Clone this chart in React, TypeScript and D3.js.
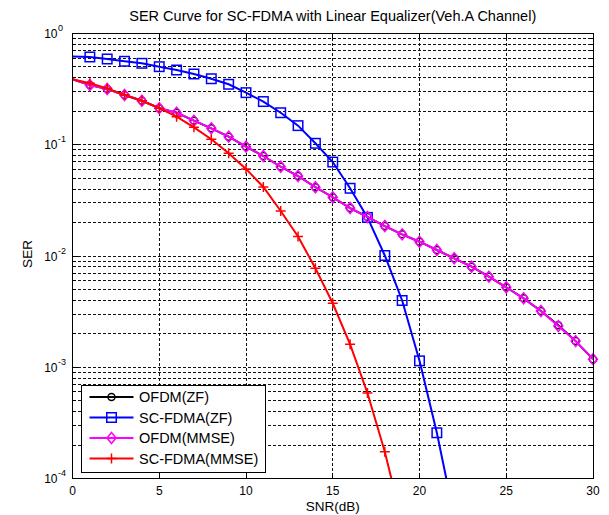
import * as d3 from "d3";

// SNR points in dB (the -1 and 0 points only feed the line segment at the left edge)
const snrDb = [-1, 0, 1, 2, 3, 4, 5, 6, 7, 8, 9, 10, 11, 12, 13, 14, 15, 16, 17, 18, 19, 20, 21, 22, 23, 24, 25, 26, 27, 28, 29, 30];

const ofdmZf = [0.415, 0.384, 0.341, 0.314, 0.277, 0.246, 0.211, 0.192, 0.163, 0.139, 0.117, 0.0951, 0.0784, 0.0628, 0.0518, 0.0411, 0.0334, 0.0267, 0.0222, 0.0184, 0.0155, 0.0133, 0.0112, 0.00944, 0.00793, 0.00645, 0.00518, 0.00412, 0.00317, 0.00236, 0.00170, 0.00117];
const scfdmaZf = [0.62, 0.615, 0.609, 0.584, 0.557, 0.534, 0.498, 0.465, 0.428, 0.388, 0.346, 0.291, 0.242, 0.192, 0.147, 0.102, 0.0692, 0.0402, 0.022, 0.01, 0.00394, 0.00113, 0.000255, 0.000045, null, null, null, null, null, null, null, null];
const ofdmMmse = [0.415, 0.384, 0.341, 0.314, 0.277, 0.246, 0.211, 0.192, 0.163, 0.139, 0.117, 0.0951, 0.0784, 0.0628, 0.0518, 0.0411, 0.0334, 0.0267, 0.0222, 0.0184, 0.0155, 0.0133, 0.0112, 0.00944, 0.00793, 0.00645, 0.00518, 0.00412, 0.00317, 0.00232, 0.0017, 0.00117];
const scfdmaMmse = [0.415, 0.384, 0.353, 0.318, 0.277, 0.246, 0.211, 0.177, 0.142, 0.111, 0.0829, 0.06, 0.0413, 0.0251, 0.0148, 0.00767, 0.00372, 0.00159, 0.000581, 0.000172, 0.00004, null, null, null, null, null, null, null, null, null, null, null];

const seriesNames = ["OFDM(ZF)", "SC-FDMA(ZF)", "OFDM(MMSE)", "SC-FDMA(MMSE)"];
const seriesColors = ["#000000", "#0000ff", "#ff00ff", "#ff0000"];
const seriesMarkers = ["circle", "square", "diamond", "plus"];
const seriesValues = [ofdmZf, scfdmaZf, ofdmMmse, scfdmaMmse];

const xTicks = [0, 5, 10, 15, 20, 25, 30];
const yDecades = [-4, -3, -2, -1, 0];

const titleText = "SER Curve for SC-FDMA with Linear Equalizer(Veh.A Channel)";
const xLabel = "SNR(dB)";
const yLabel = "SER";

const W = 609;
const H = 515;
const left = 72.5;
const right = 593;
const top = 33;
const bottom = 478;
const font = "'Liberation Sans', Arial, sans-serif";

function Marker({ kind, x, y, color }: { kind: string; x: number; y: number; color: string }) {
  const sw = 1.5;
  if (kind === "circle") {
    return <circle cx={x} cy={y} r={3.5} fill="none" stroke={color} strokeWidth={sw} />;
  }
  if (kind === "square") {
    return <rect x={x - 4.75} y={y - 4.75} width={9.5} height={9.5} fill="none" stroke={color} strokeWidth={sw} />;
  }
  if (kind === "diamond") {
    return (
      <path d={`M${x},${y - 5.5}L${x + 4.5},${y}L${x},${y + 5.5}L${x - 4.5},${y}Z`} fill="none" stroke={color} strokeWidth={sw} />
    );
  }
  return <path d={`M${x - 5},${y}H${x + 5}M${x},${y - 5}V${y + 5}`} stroke={color} strokeWidth={sw} />;
}

export default function App() {
  const x = d3.scaleLinear().domain([0, 30]).range([left, right]);
  const y = d3.scaleLog().domain([1e-4, 1]).range([bottom, top]);

  const gridY: number[] = [];
  yDecades.slice(0, -1).forEach((p) => {
    for (let m = 1; m < 10; m++) gridY.push(m * Math.pow(10, p));
  });

  const line = d3
    .line<[number, number | null]>()
    .defined((d) => d[1] !== null)
    .x((d) => x(d[0]))
    .y((d) => y(d[1] as number));

  const legendRows = [397, 417.5, 438, 458.5];

  return (
    <svg width={W} height={H} style={{ position: "absolute", left: 0, top: 0, background: "#fff" }} fontFamily={font}>
      <defs>
        <clipPath id="plotClip">
          <rect x={left} y={top - 6} width={right - left + 6} height={bottom - top + 6} />
        </clipPath>
      </defs>
      <rect x={left} y={top} width={right - left} height={bottom - top} fill="#fff" />

      {/* dotted grid */}
      <g stroke="#111" strokeWidth={1} strokeDasharray="3,2" shapeRendering="crispEdges">
        {xTicks.slice(1, -1).map((t) => (
          <line key={"gx" + t} x1={x(t)} x2={x(t)} y1={top} y2={bottom} />
        ))}
        {gridY.slice(1).map((v, i) => (
          <line key={"gy" + i} x1={left} x2={right} y1={Math.round(y(v))} y2={Math.round(y(v))} />
        ))}
      </g>

      {/* ticks */}
      <g stroke="#000" strokeWidth={1} shapeRendering="crispEdges">
        {xTicks.map((t) => (
          <g key={"tx" + t}>
            <line x1={x(t)} x2={x(t)} y1={bottom} y2={bottom - 5} />
            <line x1={x(t)} x2={x(t)} y1={top} y2={top + 5} />
          </g>
        ))}
        {gridY.map((v, i) => {
          const len = i % 9 === 0 ? 5 : 3;
          const yy = Math.round(y(v));
          return (
            <g key={"ty" + i}>
              <line x1={left} x2={left + len} y1={yy} y2={yy} />
              <line x1={right} x2={right - len} y1={yy} y2={yy} />
            </g>
          );
        })}
      </g>

      {/* series */}
      <g clipPath="url(#plotClip)">
        {seriesValues.map((vals, si) => {
          const pts = snrDb.map((s, i) => [s, vals[i]] as [number, number | null]);
          return (
            <g key={seriesNames[si]}>
              <path d={line(pts) || ""} fill="none" stroke={seriesColors[si]} strokeWidth={2} />
              {pts
                .filter((p) => p[0] >= 1 && p[1] !== null && y(p[1] as number) <= bottom + 5)
                .map((p, i) => (
                  <Marker key={i} kind={seriesMarkers[si]} x={x(p[0])} y={y(p[1] as number)} color={seriesColors[si]} />
                ))}
            </g>
          );
        })}
      </g>

      {/* axes box */}
      <rect x={left} y={top} width={right - left} height={bottom - top} fill="none" stroke="#000" strokeWidth={1} shapeRendering="crispEdges" />

      {/* tick labels */}
      <g fontSize={12} fill="#000">
        {xTicks.map((t) => (
          <text key={"lx" + t} x={x(t)} y={495} textAnchor="middle">
            {t}
          </text>
        ))}
        {yDecades.map((p) => (
          <g key={"ly" + p}>
            <text x={57.5} y={y(Math.pow(10, p)) + 5} textAnchor="end">
              10
            </text>
            <text x={58} y={y(Math.pow(10, p)) - 2} fontSize={9}>
              {p}
            </text>
          </g>
        ))}
      </g>

      <text x={(left + right) / 2} y={21} textAnchor="middle" fontSize={14.5}>
        {titleText}
      </text>
      <text x={(left + right) / 2} y={510.5} textAnchor="middle" fontSize={13.5}>
        {xLabel}
      </text>
      <text transform={`translate(31.5,254) rotate(-90)`} textAnchor="middle" fontSize={13.5}>
        {yLabel}
      </text>

      {/* legend */}
      <g>
        <rect x={81.5} y={385.5} width={184} height={87} fill="#fff" stroke="#000" strokeWidth={1} shapeRendering="crispEdges" />
        {seriesNames.map((name, i) => (
          <g key={name}>
            <line x1={89.5} x2={133.5} y1={legendRows[i]} y2={legendRows[i]} stroke={seriesColors[i]} strokeWidth={2} />
            <Marker kind={seriesMarkers[i]} x={111.5} y={legendRows[i]} color={seriesColors[i]} />
            <text x={139} y={legendRows[i] + 5} fontSize={14.5}>
              {name}
            </text>
          </g>
        ))}
      </g>
    </svg>
  );
}
